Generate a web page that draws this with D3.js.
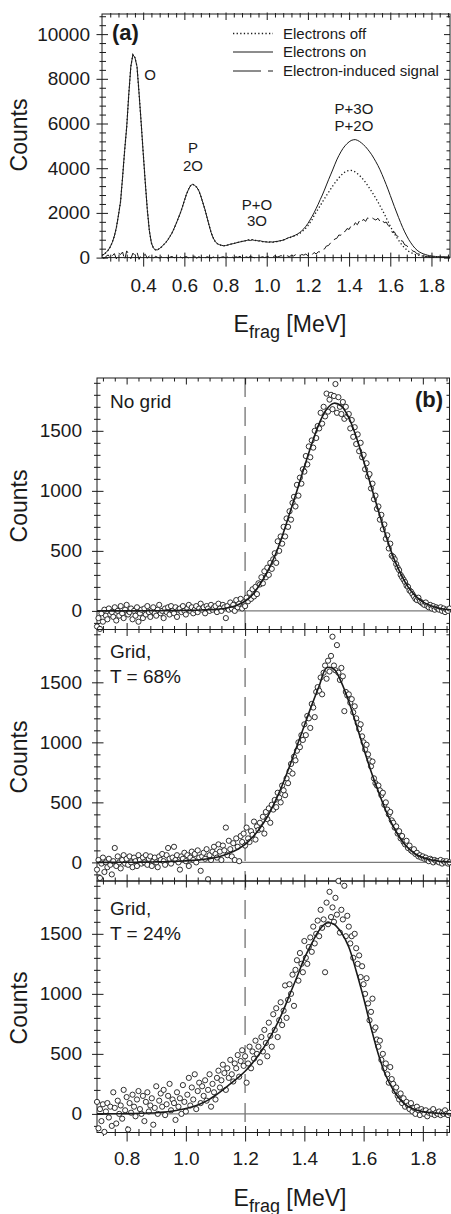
<!DOCTYPE html>
<html>
<head>
<meta charset="utf-8">
<script src="https://cdn.jsdelivr.net/npm/d3@7"></script>
<style>
body { margin: 0; background: #fff; }
text { font-family: "Liberation Sans", Arial, Helvetica, sans-serif; }
</style>
</head>
<body>
<div id="canvas"></div>
<script>
"use strict"

/* Configuration variables: drawing */
let svgWidth = 451;
let svgHeight = 1214;
let ink = "#1a1a1a";

/* Panel (a): fragment energy spectra, bins of 0.01 MeV starting at 0.20 MeV */
let binStartA = 0.20;
let binWidthA = 0.01;

let countsOn = [
    100, 150, 230, 330, 480, 680, 960, 1350, 1900, 2500,
    3600, 4800, 5850, 7300, 8550, 9080, 8950, 8550, 7350, 6060,
    4700, 3380, 2150, 1200, 650, 420, 345, 350, 410, 490,
    580, 680, 800, 950, 1100, 1300, 1520, 1750, 1980, 2250,
    2550, 2830, 3050, 3220, 3280, 3230, 3150, 3000, 2750, 2450,
    2150, 1800, 1450, 1120, 880, 720, 620, 580, 550, 530,
    540, 560, 590, 610, 630, 655, 680, 700, 725, 740,
    760, 790, 765, 800, 770, 765, 745, 750, 715, 710,
    700, 690, 705, 690, 715, 720, 745, 760, 785, 820,
    870, 900, 930, 970, 1010, 1060, 1120, 1200, 1290, 1400,
    1530, 1680, 1840, 2010, 2200, 2390, 2600, 2800, 3020, 3250,
    3480, 3700, 3920, 4150, 4370, 4560, 4730, 4880, 5000, 5100,
    5180, 5240, 5270, 5280, 5250, 5200, 5130, 5050, 4960, 4850,
    4730, 4600, 4450, 4290, 4120, 3930, 3720, 3500, 3270, 3030,
    2780, 2530, 2280, 2040, 1800, 1570, 1350, 1150, 970, 800,
    660, 530, 420, 330, 260, 210, 170, 140, 110, 90,
    75, 60, 50, 45, 40, 35, 30, 30, 25, 25
];

let countsOff = [
    100, 150, 230, 330, 480, 680, 960, 1350, 1900, 2500,
    3600, 4800, 5850, 7300, 8550, 9080, 8950, 8550, 7350, 6060,
    4700, 3380, 2150, 1200, 650, 420, 345, 350, 410, 490,
    580, 680, 800, 950, 1100, 1300, 1520, 1750, 1980, 2250,
    2550, 2830, 3050, 3220, 3280, 3230, 3150, 3000, 2750, 2450,
    2150, 1800, 1450, 1120, 880, 720, 620, 580, 550, 530,
    540, 560, 590, 610, 630, 655, 680, 700, 725, 740,
    760, 790, 765, 800, 770, 765, 745, 750, 715, 710,
    700, 690, 705, 690, 715, 720, 745, 760, 785, 820,
    860, 890, 915, 950, 985, 1030, 1080, 1150, 1230, 1320,
    1430, 1560, 1700, 1880, 2030, 2180, 2330, 2480, 2630, 2780,
    2920, 3060, 3200, 3330, 3450, 3570, 3670, 3760, 3830, 3880,
    3900, 3900, 3880, 3830, 3760, 3680, 3590, 3480, 3360, 3230,
    3090, 2950, 2800, 2650, 2490, 2320, 2150, 1970, 1780, 1590,
    1400, 1230, 1070, 920, 780, 650, 530, 430, 350, 280,
    230, 185, 150, 120, 100, 80, 65, 52, 42, 35,
    30, 25, 22, 20, 18, 16, 15, 14, 13, 12
];

let countsSignal = [
    30, -40, 60, 120, -20, 80, 180, -60, 200, 140,
    250, -100, 300, 150, -50, 200, 100, 240, -80, 120,
    60, 150, -30, 80, 20, -40, 60, 10, -20, 40,
    0, 30, -30, 20, 50, -10, 30, 0, 40, -20,
    20, 50, -20, 70, 10, 60, -30, 40, 0, 30,
    -20, 40, 10, -30, 30, 0, 50, -10, 20, 40,
    -10, 30, 0, 50, -20, 40, 10, 60, -10, 20,
    40, 0, 50, 20, -10, 60, 30, 10, 40, 0,
    30, 60, 10, 40, 80, 20, 50, 90, 30, 60,
    80, 40, 100, 70, 130, 90, 60, 140, 110, 160,
    80, 170, 120, 230, 160, 260, 250, 370, 380, 520,
    540, 660, 670, 830, 860, 1010, 1000, 1170, 1160, 1300,
    1260, 1430, 1380, 1560, 1470, 1640, 1560, 1720, 1620, 1780,
    1720, 1790, 1730, 1680, 1760, 1620, 1700, 1560, 1590, 1440,
    1340, 1120, 1150, 980, 940, 760, 740, 570, 540, 400,
    380, 290, 260, 170, 160, 100, 95, 60, 55, 35,
    30, 25, 20, 25, 15, 20, 10, 15, 5, 10
];

/* Panel (b): electron-induced signal, bins of 0.005 MeV starting at 0.70 MeV */
let binStartB = 0.70;
let binWidthB = 0.005;

let noGridCounts = [
    -130, -60, -150, -20, -90, 10, -40, -70, 20, -30,
    -10, -50, 30, -80, 0, -40, 40, -20, -60, 10,
    50, -30, -10, 20, -70, 0, -40, 30, -90, -20,
    10, -60, 20, -30, 40, -10, -50, 0, 30, -20,
    -40, 10, 50, -20, 0, -60, 20, -10, 30, -30,
    40, 0, -20, 30, -50, 10, 20, -10, 40, 0,
    -30, 20, 50, 0, 30, -20, 10, 40, -10, 20,
    60, 10, 30, -20, 40, 20, 0, 50, 10, 30,
    40, -10, 60, 20, 0, 50, 30, -60, 40, 10,
    70, 20, 50, 0, 90, 30, 60, 100, 20, 70,
    40, 110, 80, 150, 100, 180, 120, 200, 140, 230,
    220, 280, 230, 330, 280, 360, 300, 400, 350, 430,
    480, 400, 580, 500, 620, 560, 700, 620, 770, 700,
    830, 760, 900, 950, 870, 1050, 960, 1110, 1060, 1180,
    1160, 1290, 1220, 1370, 1280, 1420, 1360, 1500, 1440, 1540,
    1520, 1650, 1560, 1700, 1620, 1810, 1660, 1760, 1800, 1680,
    1790, 1890, 1650, 1780, 1700, 1640, 1740, 1600, 1700, 1620,
    1640, 1520, 1590, 1450, 1530, 1390, 1470, 1330, 1400, 1280,
    1300, 1180, 1230, 1120, 1140, 1020, 1060, 930, 960, 850,
    870, 760, 800, 680, 720, 600, 630, 520, 560, 460,
    450, 430, 390, 360, 340, 300, 280, 260, 240, 210,
    200, 170, 160, 140, 120, 100, 90, 110, 80, 70,
    60, 50, 70, 40, 30, 50, 20, 40, 10, 30,
    20, 10, 30, 0, 20, -10, 10, 0, 20
];

let grid68Counts = [
    -60, 20, -130, -10, 40, -80, 0, -40, 30, -20,
    -100, 10, 120, -30, 50, 0, -50, 20, 60, -10,
    30, -20, 50, 0, -40, 40, 10, -30, 60, 20,
    -10, 40, 0, 60, -20, 30, 50, -30, 10, 40,
    0, -40, 50, 20, 70, 10, -20, 60, 120, 30,
    -10, 40, 130, 20, 60, 0, -60, 50, 30, 80,
    10, 60, -30, 40, 90, 20, 70, 0, 100, 40,
    -70, 50, 80, 30, 110, -140, 60, 20, 90, 130,
    70, 40, 150, 90, 20, 140, 100, 290, 60, 180,
    110, 50, 160, 20, 200, 130, 10, 220, 170, 240,
    140, 290, 200, 170, 260, 230, 340, 190, 300, 270,
    330, 280, 380, 240, 420, 360, 450, 330, 480, 440,
    520, 460, 580, 540, 500, 640, 600, 560, 700, 660,
    760, 820, 740, 880, 850, 930, 1000, 960, 1060, 1020,
    1150, 1060, 1220, 1200, 1120, 1320, 1290, 1210, 1420, 1460,
    1430, 1540, 1400, 1580, 1640, 1530, 1680, 1590, 1720, 1880,
    1640, 1600, 1810, 1580, 1520, 1620, 1550, 1260, 1420, 1390,
    1400, 1330, 1360, 1250, 1300, 1200, 1160, 1110, 1150, 1050,
    1000, 940, 980, 900, 850, 800, 840, 700, 660, 640,
    640, 600, 560, 580, 480, 500, 440, 400, 420, 350,
    330, 290, 300, 240, 260, 200, 220, 170, 150, 180,
    120, 140, 100, 90, 110, 70, 80, 50, 60, 40,
    50, 30, 40, 20, 10, 30, 20, 0, 20, 10,
    10, 0, 20, -10, 10, 0, 10, -10, 0
];

let grid24Counts = [
    100, -120, 40, -60, 80, -150, 20, 90, -30, 60,
    -100, 180, 50, -80, 110, 0, 70, -40, 200, 30,
    140, -130, 90, 10, 160, 60, -20, 120, 190, 40,
    0, 150, -60, 100, 180, 20, 70, 130, -90, 50,
    230, 0, 110, 170, 60, 200, -10, 80, 150, 250,
    30, 120, 90, -50, 180, 60, 130, 0, 240, 100,
    20, 160, 300, 70, 220, 120, 330, 40, 190, 260,
    90, 230, 150, 280, 110, 200, 330, 60, 250, 180,
    120, 300, 360, 220, 280, 410, 340, 200, 380, 300,
    450, 330, 270, 420, 380, 490, 310, 440, 530, 400,
    480, 260, 420, 560, 380, 520, 460, 610, 500, 560,
    430, 640, 520, 700, 590, 480, 760, 650, 560, 830,
    700, 880, 640, 780, 930, 740, 860, 1070, 800, 950,
    1080, 1000, 1160, 900, 1200, 1280, 1110, 1340, 1250, 1180,
    1440, 1300, 1250, 1390, 1470, 1350, 1560, 1420, 1500, 1610,
    1480, 1700, 1550, 1620, 1180, 1760, 1580, 1850, 1640, 1720,
    1600, 1800, 1660, 1940, 1510, 1700, 1620, 1900, 1480, 1650,
    1560, 1420, 1480, 1300, 1500, 1380, 1250, 1320, 1140, 1230,
    1080, 1000, 1130, 920, 780, 850, 960, 700, 720, 620,
    560, 610, 450, 500, 380, 420, 330, 260, 390, 290,
    250, 190, 220, 150, 120, 170, 90, 130, 60, 100,
    70, 40, 90, 20, 50, 0, 60, 30, -10, 40,
    20, 0, 30, -20, 10, 20, 0, 40, -10, 10,
    0, 20, -10, 10, 0, 30, 0, -10, 10
];

/* Fitted curves, read every 0.025 MeV starting at 0.70 MeV */
let fitStart = 0.70;
let fitStep = 0.025;

let noGridFit = [
    0, 0, 0, 0, 0, 0, 1, 1,
    1, 2, 2, 3, 4, 5, 7, 9,
    12, 18, 30, 50, 80, 135, 220, 325,
    455, 620, 810, 1000, 1200, 1390, 1560, 1680,
    1730, 1705, 1610, 1450, 1250, 1040, 835, 630,
    450, 310, 200, 125, 75, 45, 25, 14,
    8
];

let grid68Fit = [
    0, 0, 0, 1, 1, 1, 2, 3,
    4, 5, 7, 10, 13, 17, 22, 30,
    40, 57, 80, 110, 150, 210, 285, 380,
    500, 640, 800, 970, 1140, 1310, 1470, 1620,
    1610, 1500, 1340, 1150, 950, 760, 590, 430,
    300, 195, 120, 70, 40, 22, 12, 6,
    3
];

let grid24Fit = [
    0, 0, 1, 1, 2, 3, 5, 7,
    10, 15, 22, 32, 45, 62, 85, 115,
    155, 200, 250, 300, 355, 425, 505, 600,
    710, 840, 990, 1140, 1295, 1420, 1530, 1590,
    1580, 1510, 1390, 1190, 965, 720, 495, 320,
    200, 115, 62, 35, 19, 10, 5, 2,
    1
];

/* Tick labels */
let xTicksA = [0.4, 0.6, 0.8, 1.0, 1.2, 1.4, 1.6, 1.8];
let yTicksA = [0, 2000, 4000, 6000, 8000, 10000];
let xTicksB = [0.8, 1.0, 1.2, 1.4, 1.6, 1.8];
let yTicksB = [0, 500, 1000, 1500];

/* Texts */
let legendLabels = ["Electrons off", "Electrons on", "Electron-induced signal"];
let panelNames = [["No grid"], ["Grid,", "T = 68%"], ["Grid,", "T = 24%"]];

/* minor ticks */
let xMinorA = d3.range(6, 48).map(i => i * 0.04).filter(v => Math.abs(v * 5 - Math.round(v * 5)) > 0.01);
let yMinorA = d3.range(1, 28).map(i => i * 400).filter(v => v % 2000 != 0);
let xMinorB = d3.range(18, 48).map(i => i * 0.04).filter(v => Math.abs(v * 5 - Math.round(v * 5)) > 0.01);
let yMinorB = d3.range(-1, 20).map(i => i * 100).filter(v => v % 500 != 0);

/* Create drawing canvas */
let svg = d3.select("#canvas")
    .append("svg")
    .attr("width", svgWidth)
    .attr("height", svgHeight)
    .style("display", "block");

/* Tick marks crossing a frame edge: "inner" px inside the frame, "outer" px outside */
function drawTicks(axisMaker, scale, values, x0, y0, inner, outer) {
    let g = svg.append("g")
        .attr("transform", "translate(" + x0 + "," + y0 + ")")
        .call(axisMaker(scale).tickValues(values).tickFormat("").tickSize(outer).tickSizeOuter(0));
    g.select(".domain").remove();
    let lines = g.selectAll(".tick line").attr("stroke", ink).attr("stroke-width", 1);
    if (axisMaker == d3.axisBottom) lines.attr("y1", -inner);
    if (axisMaker == d3.axisTop) lines.attr("y1", inner);
    if (axisMaker == d3.axisLeft) lines.attr("x1", inner);
    if (axisMaker == d3.axisRight) lines.attr("x1", -inner);
}

/* Tick labels only */
function drawLabels(axisMaker, scale, values, x0, y0, padding, format) {
    let g = svg.append("g")
        .attr("transform", "translate(" + x0 + "," + y0 + ")")
        .call(axisMaker(scale).tickValues(values).tickFormat(format).tickSize(0).tickPadding(padding));
    g.select(".domain").remove();
    g.selectAll(".tick line").remove();
    g.attr("font-size", 19).attr("color", ink);
}

function countsLabel(yCenter) {
    svg.append("text")
        .attr("transform", "translate(27," + yCenter + ") rotate(-90)")
        .attr("text-anchor", "middle")
        .attr("font-size", 23)
        .attr("fill", ink)
        .text("Counts");
}

function energyLabel(baseline) {
    let t = svg.append("text")
        .attr("x", 290)
        .attr("y", baseline)
        .attr("text-anchor", "middle")
        .attr("font-size", 23)
        .attr("fill", ink);
    t.append("tspan").text("E");
    t.append("tspan").attr("font-size", 18).attr("dy", 6).text("frag");
    t.append("tspan").attr("dy", -6).text(" [MeV]");
}

/**** Panel (a) ****/
let aLeft = 102, aRight = 450, aTop = 14, aBottom = 257.6;

let xScaleA = d3.scaleLinear()
    .domain([0.2, 1.89])
    .range([aLeft, aRight]);

let yScaleA = d3.scaleLinear()
    .domain([0, 10900])
    .range([aBottom, aTop]);

let lineA = d3.line()
    .x((d, i) => xScaleA(binStartA + i * binWidthA))
    .y(d => yScaleA(d));

/* Electrons off: dotted */
svg.append("path")
    .attr("d", lineA(countsOff))
    .attr("fill", "none")
    .attr("stroke", ink)
    .attr("stroke-width", 1.3)
    .attr("stroke-dasharray", "1.3,2.3");

/* Electrons on: solid */
svg.append("path")
    .attr("d", lineA(countsOn))
    .attr("fill", "none")
    .attr("stroke", ink)
    .attr("stroke-width", 1);

/* Electron-induced signal: dashed */
svg.append("path")
    .attr("d", lineA(countsSignal))
    .attr("fill", "none")
    .attr("stroke", ink)
    .attr("stroke-width", 1)
    .attr("stroke-dasharray", "10,5");

/* frame */
svg.append("rect")
    .attr("x", aLeft)
    .attr("y", aTop)
    .attr("width", aRight - aLeft)
    .attr("height", aBottom - aTop)
    .attr("fill", "none")
    .attr("stroke", ink);

drawTicks(d3.axisBottom, xScaleA, xTicksA, 0, aBottom, 5, 9);
drawTicks(d3.axisBottom, xScaleA, xMinorA, 0, aBottom, 3, 4);
drawTicks(d3.axisTop, xScaleA, xTicksA, 0, aTop, 6, 1.5);
drawTicks(d3.axisTop, xScaleA, xMinorA, 0, aTop, 3.5, 1);
drawTicks(d3.axisLeft, yScaleA, yTicksA, aLeft, 0, 6, 5.5);
drawTicks(d3.axisLeft, yScaleA, yMinorA, aLeft, 0, 4, 2.5);
drawTicks(d3.axisRight, yScaleA, yTicksA, aRight, 0, 6, 0);
drawTicks(d3.axisRight, yScaleA, yMinorA, aRight, 0, 3.5, 0);

drawLabels(d3.axisBottom, xScaleA, xTicksA, 0, aBottom, 21.4, d3.format(".1f"));
drawLabels(d3.axisLeft, yScaleA, yTicksA, aLeft, 0, 12, d3.format("d"));

countsLabel(135);
energyLabel(332);

/* panel letter */
svg.append("text")
    .attr("x", 112)
    .attr("y", 40)
    .attr("font-size", 22)
    .attr("font-weight", "bold")
    .attr("fill", ink)
    .text("(a)");

/* peak assignments */
let peakText = svg.append("g")
    .attr("font-size", 15)
    .attr("text-anchor", "middle")
    .attr("fill", ink);
peakText.append("text").attr("x", 150).attr("y", 80).text("O");
peakText.append("text").attr("x", 193).attr("y", 152.5).text("P");
peakText.append("text").attr("x", 193).attr("y", 170.5).text("2O");
peakText.append("text").attr("x", 257).attr("y", 210).text("P+O");
peakText.append("text").attr("x", 257).attr("y", 225.5).text("3O");
peakText.append("text").attr("x", 354).attr("y", 113.5).text("P+3O");
peakText.append("text").attr("x", 354).attr("y", 130.5).text("P+2O");

/* legend */
let legendDash = ["1.3,2.3", null, "28,7"];
let legendWidth = [1.3, 1, 1];
let legendY = [33.5, 52, 71];
for (let i = 0; i < 3; i++) {
    svg.append("line")
        .attr("x1", 233)
        .attr("x2", 273)
        .attr("y1", legendY[i])
        .attr("y2", legendY[i])
        .attr("stroke", ink)
        .attr("stroke-width", legendWidth[i])
        .attr("stroke-dasharray", legendDash[i]);
    svg.append("text")
        .attr("x", 283)
        .attr("y", legendY[i] + 5.2)
        .attr("font-size", 15)
        .attr("fill", ink)
        .text(legendLabels[i]);
}

/**** Panel (b) ****/
let bLeft = 97, bRight = 449.5;
let panelTops = [378, 629.5, 881];
let panelHeight = 251.5;
let panelCounts = [noGridCounts, grid68Counts, grid24Counts];
let panelFits = [noGridFit, grid68Fit, grid24Fit];
let nameBaselines = [[408], [658, 683], [915, 939.5]];
let countsCenters = [506, 757, 1008];

let xScaleB = d3.scaleLinear()
    .domain([0.7, 1.89])
    .range([bLeft, bRight]);

/* vertical dashed marker at 1.2 MeV through all three panels */
svg.append("line")
    .attr("x1", xScaleB(1.2))
    .attr("x2", xScaleB(1.2))
    .attr("y1", panelTops[0])
    .attr("y2", panelTops[2] + panelHeight)
    .attr("stroke", "#858585")
    .attr("stroke-width", 1.5)
    .attr("stroke-dasharray", "19,10");

for (let p = 0; p < 3; p++) {
    let top = panelTops[p];
    let bottom = top + panelHeight;
    let yScaleB = d3.scaleLinear()
        .domain([-155, 1940])
        .range([bottom, top]);

    /* zero line */
    svg.append("line")
        .attr("x1", bLeft)
        .attr("x2", bRight)
        .attr("y1", yScaleB(0))
        .attr("y2", yScaleB(0))
        .attr("stroke", "#7a7a7a")
        .attr("stroke-width", 1.3);

    /* frame */
    svg.append("rect")
        .attr("x", bLeft)
        .attr("y", top)
        .attr("width", bRight - bLeft)
        .attr("height", panelHeight)
        .attr("fill", "none")
        .attr("stroke", ink);

    let lastPanel = (p == 2);
    drawTicks(d3.axisBottom, xScaleB, xTicksB, 0, bottom, 6.5, lastPanel ? 9 : 0);
    drawTicks(d3.axisBottom, xScaleB, xMinorB, 0, bottom, 3.5, lastPanel ? 3.5 : 0);
    drawTicks(d3.axisTop, xScaleB, xTicksB, 0, top, 6.5, 0);
    drawTicks(d3.axisTop, xScaleB, xMinorB, 0, top, 3.5, 0);
    drawTicks(d3.axisLeft, yScaleB, yTicksB, bLeft, 0, 6.5, 5);
    drawTicks(d3.axisLeft, yScaleB, yMinorB, bLeft, 0, 3.5, 3);
    drawTicks(d3.axisRight, yScaleB, yTicksB, bRight, 0, 7, 0);
    drawTicks(d3.axisRight, yScaleB, yMinorB, bRight, 0, 3, 0);

    drawLabels(d3.axisLeft, yScaleB, yTicksB, bLeft, 0, 15, d3.format("d"));

    /* data points */
    svg.append("g")
        .selectAll("circle")
        .data(panelCounts[p])
        .join("circle")
        .attr("cx", (d, i) => xScaleB(binStartB + i * binWidthB))
        .attr("cy", d => yScaleB(d))
        .attr("r", 2.6)
        .attr("fill", "white")
        .attr("stroke", ink)
        .attr("stroke-width", 0.9);

    /* fitted curve */
    let fitLine = d3.line()
        .x((d, i) => xScaleB(fitStart + i * fitStep))
        .y(d => yScaleB(d))
        .curve(d3.curveCatmullRom);

    svg.append("path")
        .attr("d", fitLine(panelFits[p]))
        .attr("fill", "none")
        .attr("stroke", ink)
        .attr("stroke-width", 1.6);

    /* panel name */
    for (let k = 0; k < panelNames[p].length; k++) {
        svg.append("text")
            .attr("x", 110)
            .attr("y", nameBaselines[p][k])
            .attr("font-size", 19)
            .attr("fill", ink)
            .text(panelNames[p][k]);
    }

    countsLabel(countsCenters[p]);
}

drawLabels(d3.axisBottom, xScaleB, xTicksB, 0, panelTops[2] + panelHeight, 19, d3.format(".1f"));
energyLabel(1205.5);

svg.append("text")
    .attr("x", 443)
    .attr("y", 407)
    .attr("text-anchor", "end")
    .attr("font-size", 22)
    .attr("font-weight", "bold")
    .attr("fill", ink)
    .text("(b)");
</script>
</body>
</html>
